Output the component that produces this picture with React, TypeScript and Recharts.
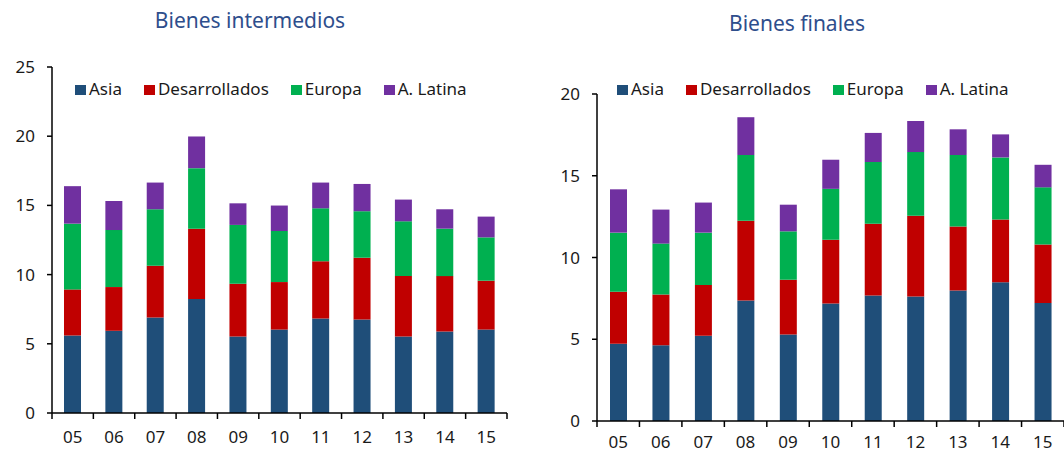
import { Bar, BarChart, XAxis, YAxis } from "recharts";

const years = ["05", "06", "07", "08", "09", "10", "11", "12", "13", "14", "15"];

// Bienes intermedios
const interAsia = [5.6, 5.94, 6.9, 8.23, 5.53, 6.03, 6.83, 6.76, 5.53, 5.89, 6.03];
const interDes = [3.33, 3.16, 3.74, 5.09, 3.81, 3.43, 4.13, 4.46, 4.36, 4.0, 3.53];
const interEur = [4.75, 4.12, 4.08, 4.37, 4.25, 3.69, 3.83, 3.36, 3.96, 3.43, 3.13];
const interLat = [2.71, 2.1, 1.93, 2.29, 1.56, 1.84, 1.86, 1.97, 1.57, 1.4, 1.5];

// Bienes finales
const finAsia = [4.73, 4.63, 5.22, 7.37, 5.29, 7.18, 7.67, 7.61, 7.98, 8.49, 7.22];
const finDes = [3.18, 3.1, 3.1, 4.88, 3.35, 3.9, 4.39, 4.94, 3.92, 3.84, 3.58];
const finEur = [3.61, 3.12, 3.2, 4.02, 2.96, 3.12, 3.78, 3.9, 4.37, 3.79, 3.49];
const finLat = [2.65, 2.08, 1.84, 2.31, 1.63, 1.78, 1.78, 1.9, 1.57, 1.41, 1.38];

const interTicks = [0, 5, 10, 15, 20, 25];
const finTicks = [0, 5, 10, 15, 20];

const series = [
  { key: "asia", name: "Asia", color: "#1F4E79" },
  { key: "des", name: "Desarrollados", color: "#C00000" },
  { key: "eur", name: "Europa", color: "#00B050" },
  { key: "lat", name: "A. Latina", color: "#7030A0" },
];

const FONT = "'Noto Sans', sans-serif";

function rows(a: number[], d: number[], e: number[], l: number[]) {
  return years.map((y, i) => ({ year: y, asia: a[i], des: d[i], eur: e[i], lat: l[i] }));
}

const interData = rows(interAsia, interDes, interEur, interLat);
const finData = rows(finAsia, finDes, finEur, finLat);

function XTick(props: any) {
  const { x, payload, index, axisY, bw, count, labelOffset } = props;
  return (
    <g>
      <line x1={x - bw / 2} x2={x - bw / 2} y1={axisY} y2={axisY + 6} stroke="#000" strokeWidth={1.5} />
      {index === count - 1 && (
        <line x1={x + bw / 2} x2={x + bw / 2} y1={axisY} y2={axisY + 6} stroke="#000" strokeWidth={1.5} />
      )}
      <text x={x} y={axisY + labelOffset} textAnchor="middle" fill="#1a1a1a" fontSize={17} fontFamily={FONT}>
        {payload.value}
      </text>
    </g>
  );
}

function Legend() {
  return (
    <div style={{ display: "flex", gap: 22, fontFamily: FONT, fontSize: 17, lineHeight: "17px", color: "#1a1a1a" }}>
      {series.map((s) => (
        <span key={s.key} style={{ whiteSpace: "nowrap" }}>
          <span style={{ display: "inline-block", width: 11, height: 10, background: s.color, marginRight: 3 }} />
          {s.name}
        </span>
      ))}
    </div>
  );
}

function Panel(props: {
  data: any[];
  width: number;
  top: number;
  right: number;
  yWidth: number;
  xHeight: number;
  labelOffset: number;
  max: number;
  ticks: number[];
}) {
  const { data, width, top, right, yWidth, xHeight, labelOffset, max, ticks } = props;
  const axisY = 454 - xHeight;
  const bw = (width - yWidth - right) / data.length;
  return (
    <BarChart width={width} height={454} data={data} margin={{ top, right, bottom: 0, left: 0 }} barSize={17}>
      <XAxis
        dataKey="year"
        height={xHeight}
        stroke="#000"
        strokeWidth={1.5}
        tickLine={false}
        interval={0}
        tick={(p: any) => (
          <XTick {...p} axisY={axisY} bw={bw} count={data.length} labelOffset={labelOffset} />
        )}
      />
      <YAxis
        width={yWidth}
        domain={[0, max]}
        ticks={ticks}
        interval={0}
        stroke="#000"
        strokeWidth={1.5}
        tickSize={5}
        tickMargin={12}
        tick={{ fill: "#1a1a1a", fontSize: 17, fontFamily: FONT }}
      />
      {series.map((s) => (
        <Bar key={s.key} dataKey={s.key} name={s.name} stackId="a" fill={s.color} isAnimationActive={false} />
      ))}
    </BarChart>
  );
}

export default function App() {
  const titleStyle = {
    position: "absolute" as const,
    fontFamily: FONT,
    fontSize: 21,
    lineHeight: "21px",
    color: "#2E4E8C",
    textAlign: "center" as const,
    width: 300,
  };
  return (
    <div style={{ position: "absolute", left: 0, top: 0, width: 1064, height: 454, background: "#fff" }}>
      <div style={{ ...titleStyle, left: 100, top: 10 }}>Bienes intermedios</div>
      <div style={{ ...titleStyle, left: 647, top: 13 }}>Bienes finales</div>
      <div style={{ position: "absolute", left: 0, top: 0 }}>
        <Panel
          data={interData}
          width={520}
          top={67}
          right={13}
          yWidth={52}
          xHeight={41}
          labelOffset={30}
          max={25}
          ticks={interTicks}
        />
      </div>
      <div style={{ position: "absolute", left: 540, top: 0 }}>
        <Panel
          data={finData}
          width={524}
          top={94}
          right={0}
          yWidth={57}
          xHeight={33}
          labelOffset={27}
          max={20}
          ticks={finTicks}
        />
      </div>
      <div style={{ position: "absolute", left: 75, top: 80 }}>
        <Legend />
      </div>
      <div style={{ position: "absolute", left: 617, top: 80 }}>
        <Legend />
      </div>
    </div>
  );
}
